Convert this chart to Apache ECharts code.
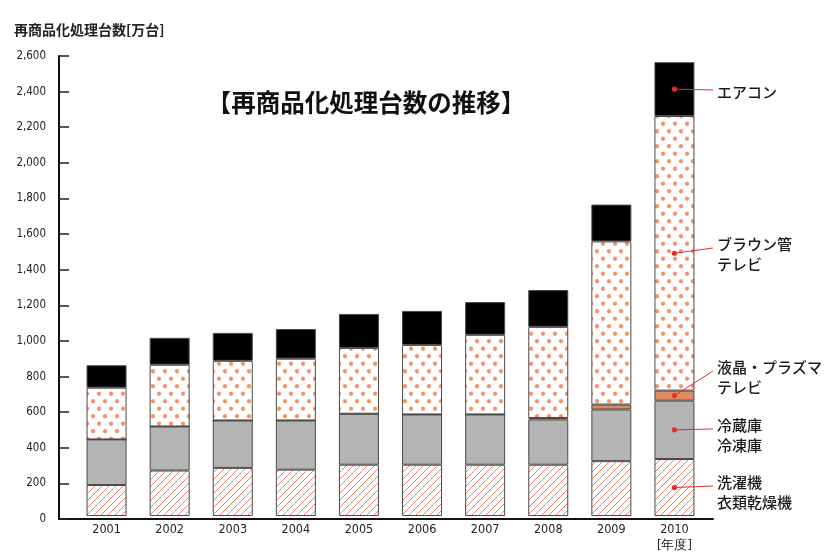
<!DOCTYPE html>
<html><head><meta charset="utf-8">
<script src="https://cdn.jsdelivr.net/npm/echarts@6/dist/echarts.min.js"></script>
<style>html,body{margin:0;padding:0;background:#fff}#c{width:832px;height:554px}</style>
</head><body><div id="c"></div>
<script>
// ---- data (万台) ----
const years   = ['2001','2002','2003','2004','2005','2006','2007','2008','2009','2010'];
const washer  = [175, 257, 272, 262, 290, 290, 290, 290, 310, 322];   // 洗濯機・衣類乾燥機
const fridge  = [258, 249, 268, 278, 288, 284, 284, 256, 292, 330];   // 冷蔵庫・冷凍庫
const lcd     = [0, 0, 0, 0, 0, 0, 0, 8, 28, 57];                      // 液晶・プラズマテレビ
const crt     = [292, 349, 337, 349, 372, 393, 450, 515, 922, 1552];  // ブラウン管テレビ
const aircon  = [127, 152, 158, 168, 192, 192, 185, 208, 208, 304];   // エアコン
const seriesNames = ['洗濯機\n衣類乾燥機', '冷蔵庫\n冷凍庫', '液晶・プラズマ\nテレビ', 'ブラウン管\nテレビ', 'エアコン'];
const yMin = 0, yMax = 2600, yStep = 200;
const titleText = '【再商品化処理台数の推移】';
const yAxisTitle = '再商品化処理台数[万台]';
const xUnit = '[年度]';

// ---- patterns ----
function hatchPattern(){
  const s = 7, c = document.createElement('canvas'); c.width = s; c.height = s;
  const g = c.getContext('2d');
  g.fillStyle = '#fff'; g.fillRect(0,0,s,s);
  g.strokeStyle = '#f2826f'; g.lineWidth = 1;
  g.beginPath();
  g.moveTo(-1, s+1); g.lineTo(s+1, -1);
  g.moveTo(-2, 2); g.lineTo(2, -2);
  g.moveTo(s-2, s+2); g.lineTo(s+2, s-2);
  g.stroke();
  return c;
}
function dotPattern(){
  const w = 12, h = 15, c = document.createElement('canvas'); c.width = w; c.height = h;
  const g = c.getContext('2d');
  g.fillStyle = '#fff'; g.fillRect(0,0,w,h);
  g.fillStyle = '#f2966c';
  [[3,3.75],[9,11.25]].forEach(p => { g.beginPath(); g.arc(p[0], p[1], 2.15, 0, Math.PI*2); g.fill(); });
  return c;
}

const chart = echarts.init(document.getElementById('c'), null, {renderer: 'canvas'});
const border = {borderColor: '#4a4a4a', borderWidth: 1};
const fills = [
  Object.assign({color: {image: hatchPattern(), repeat: 'repeat'}}, border),
  Object.assign({color: '#b4b4b4'}, border),
  Object.assign({color: '#dc8c5e'}, border),
  Object.assign({color: {image: dotPattern(), repeat: 'repeat'}}, border),
  Object.assign({color: '#000'}, border)
];
const values = [washer, fridge, lcd, crt, aircon];

const numFont = "'Liberation Sans Narrow','DejaVu Sans Condensed','Liberation Sans',sans-serif";
const jpFont = "'Noto Sans CJK JP',sans-serif";

chart.setOption({
  animation: false,
  backgroundColor: '#fff',
  grid: [
    {left: 75, right: 126, top: 56, bottom: 35},
    {left: 59, right: 119, top: 56, bottom: 35}
  ],
  xAxis: [
    {type: 'category', data: years, gridIndex: 0,
     axisLine: {show: false}, axisTick: {show: false},
     axisLabel: {margin: 6, fontSize: 12.5, color: '#222', fontFamily: numFont, lineHeight: 16,
       formatter: v => v === years[years.length-1] ? v + '\n' + xUnit : v}},
    {type: 'value', gridIndex: 1, min: 0, max: 1,
     axisLine: {show: true, lineStyle: {color: '#111', width: 2}},
     axisTick: {show: false}, axisLabel: {show: false}, splitLine: {show: false}}
  ],
  yAxis: [
    {type: 'value', gridIndex: 0, min: yMin, max: yMax, interval: yStep, show: false},
    {type: 'value', gridIndex: 1, min: yMin, max: yMax, interval: yStep,
     axisLine: {show: true, lineStyle: {color: '#111', width: 2}},
     axisTick: {show: true, inside: true, length: 10, lineStyle: {color: '#222', width: 1.5}},
     axisLabel: {margin: 13, fontSize: 11.5, color: '#222', fontFamily: numFont,
       formatter: v => v.toLocaleString('en-US')},
     splitLine: {show: false}}
  ],
  series: values.map((arr, i) => ({
    type: 'bar', name: seriesNames[i], stack: 'total', xAxisIndex: 0, yAxisIndex: 0,
    barWidth: 40, data: arr, itemStyle: fills[i]
  }))
});

// ---- annotations on the last year ----
const labelCenters = [492, 435, 377, 254, 92];
const last = years.length - 1;
const graphics = [];
let base = 0;
values.forEach((arr, i) => {
  const mid = base + arr[last] / 2;
  base += arr[last];
  const p = chart.convertToPixel({seriesIndex: i}, [years[last], mid]);
  const cy = labelCenters[i];
  const multi = seriesNames[i].indexOf('\n') >= 0;
  const ey = multi ? cy - 6 : cy - 2;
  graphics.push({type: 'line', shape: {x1: p[0], y1: p[1], x2: 713, y2: ey},
    style: {stroke: '#e0302a', lineWidth: 1}, z: 100});
  graphics.push({type: 'circle', shape: {cx: p[0], cy: p[1], r: 2.6},
    style: {fill: '#e0302a'}, z: 101});
  graphics.push({type: 'text', x: 717, y: cy, z: 100,
    style: {text: seriesNames[i], fill: '#1a1a1a', font: '500 15px ' + jpFont,
      lineHeight: 20, verticalAlign: 'middle', align: 'left'}});
});
graphics.push({type: 'text', x: 366, y: 103,
  style: {text: titleText, fill: '#111', font: 'bold 24.5px ' + jpFont, align: 'center', verticalAlign: 'middle'}});
graphics.push({type: 'text', x: 14, y: 30,
  style: {text: yAxisTitle, fill: '#222', font: 'bold 14px ' + jpFont, align: 'left', verticalAlign: 'middle'}});
chart.setOption({graphic: graphics});
</script>
</body></html>
